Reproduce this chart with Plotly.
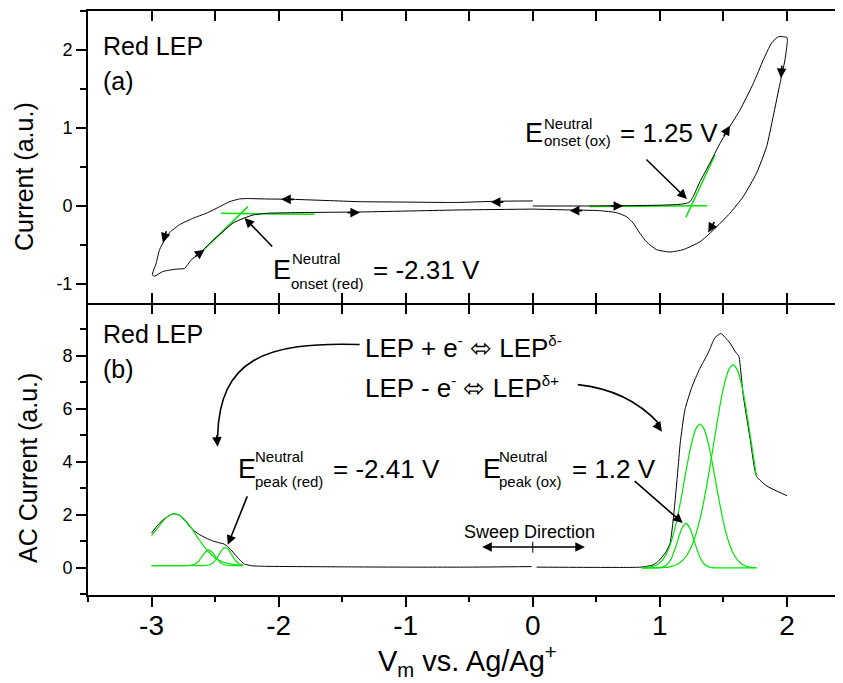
import plotly.graph_objects as go

# ---------------- data : panel (a) cyclic voltammetry ----------------
cv_anodic_v = [0.0, 0.4, 0.8, 1.0, 1.15, 1.21, 1.236, 1.262, 1.315, 1.394, 1.472, 1.551, 1.63, 1.735,
               1.813, 1.879, 1.932, 1.975, 2.0, 2.003, 1.984, 1.945, 1.892, 1.84, 1.76, 1.656, 1.551,
               1.42, 1.315, 1.183, 1.079, 0.974, 0.895, 0.843, 0.79, 0.738, 0.659, 0.528, 0.265, 0.0]
cv_anodic_i = [0.0, 0.0, 0.005, 0.01, 0.02, 0.035, 0.055, 0.12, 0.31, 0.55, 0.80, 1.02, 1.23, 1.57,
               1.87, 2.09, 2.17, 2.17, 2.16, 2.11, 1.87, 1.57, 1.15, 0.76, 0.42, 0.12, -0.094,
               -0.31, -0.46, -0.56, -0.59, -0.56, -0.46, -0.35, -0.22, -0.137, -0.086, -0.06, -0.05, -0.04]
cv_cathodic_v = [0.0, -0.3, -0.6, -1.0, -1.36, -1.62, -1.887, -2.1, -2.25, -2.307, -2.386, -2.465, -2.57,
                 -2.675, -2.78, -2.858, -2.898, -2.937, -2.963, -2.994, -2.976, -2.911, -2.806, -2.74,
                 -2.687, -2.622, -2.543, -2.439, -2.36, -2.28, -2.2, -2.097, -1.887, -1.62, -1.36,
                 -0.575, 0.0]
cv_cathodic_i = [0.065, 0.06, 0.045, 0.05, 0.055, 0.07, 0.085, 0.09, 0.095, 0.09, 0.055, -0.01, -0.094,
                 -0.158, -0.24, -0.34, -0.44, -0.56, -0.73, -0.885, -0.90, -0.84, -0.81, -0.80,
                 -0.69, -0.61, -0.48, -0.33, -0.22, -0.16, -0.115, -0.094, -0.086, -0.081, -0.077,
                 -0.051, -0.04]
# onset tangent lines
tan_red_base_v, tan_red_base_i = [-2.451, -1.717], [-0.094, -0.106]
tan_red_slope_v, tan_red_slope_i = [-2.583, -2.242], [-0.551, -0.008]
tan_ox_base_v, tan_ox_base_i = [0.449, 1.372], [-0.008, 0.004]
tan_ox_slope_v, tan_ox_slope_i = [1.205, 1.433], [-0.145, 0.654]

# ---------------- data : panel (b) AC voltammetry ----------------
ac_neg_v = [-3.0, -2.95, -2.9, -2.85, -2.82, -2.78, -2.74, -2.70, -2.66, -2.62, -2.57, -2.52, -2.47,
            -2.43, -2.40, -2.36, -2.33, -2.30, -2.27, -2.21, -2.1, -1.5, -1.0, -0.5, -0.01]
ac_neg_i = [1.31, 1.62, 1.85, 2.0, 2.04, 1.98, 1.8, 1.56, 1.38, 1.25, 1.12, 1.02, 0.95,
            0.9, 0.8, 0.6, 0.43, 0.28, 0.15, 0.08, 0.06, 0.04, 0.03, 0.03, 0.05]
ac_pos_v = [0.03, 0.5, 0.85, 0.945, 0.98, 1.01, 1.05, 1.08, 1.10, 1.118, 1.14, 1.16, 1.197, 1.25,
            1.31, 1.38, 1.433, 1.48, 1.55, 1.60, 1.62, 1.656, 1.709, 1.761, 1.84, 2.0]
ac_pos_i = [0.03, 0.02, 0.03, 0.11, 0.22, 0.37, 0.62, 0.93, 1.6, 2.44, 3.6, 4.7, 5.96, 6.79,
            7.47, 8.1, 8.67, 8.83, 8.48, 8.1, 8.0, 6.5, 4.9, 3.45, 3.09, 2.72]

fit_red_v = [-3.0, -2.95, -2.9, -2.85, -2.82, -2.78, -2.74, -2.70, -2.66, -2.63, -2.60, -2.57, -2.55,
             -2.52, -2.49, -2.46, -2.43, -2.40, -2.37, -2.34, -2.31, -2.28]
fit_red_1 = [1.22, 1.52, 1.82, 2.01, 2.04, 1.98, 1.82, 1.59, 1.31, 1.09, 0.89, 0.71, 0.60,
             0.46, 0.35, 0.27, 0.21, 0.17, 0.14, 0.12, 0.11, 0.10]
fit_red_2 = [0.09, 0.09, 0.09, 0.09, 0.09, 0.09, 0.09, 0.10, 0.14, 0.25, 0.45, 0.63, 0.68,
             0.58, 0.38, 0.21, 0.12, 0.10, 0.09, 0.09, 0.09, 0.09]
fit_red_3 = [0.09, 0.09, 0.09, 0.09, 0.09, 0.09, 0.09, 0.09, 0.09, 0.09, 0.09, 0.097, 0.11,
             0.18, 0.345, 0.58, 0.76, 0.72, 0.50, 0.28, 0.15, 0.10]

fit_ox_v = [0.86, 0.92, 0.97, 1.01, 1.05, 1.09, 1.13, 1.17, 1.205, 1.24, 1.28, 1.315, 1.35, 1.39,
            1.43, 1.47, 1.51, 1.545, 1.577, 1.61, 1.65, 1.69, 1.725, 1.76]
fit_ox_1 = [0.0, 0.0, 0.0, 0.02, 0.10, 0.35, 0.87, 1.46, 1.69, 1.46, 0.87, 0.40, 0.14, 0.03,
            0.0, 0.0, 0.0, 0.0, 0.0, 0.0, 0.0, 0.0, 0.0, 0.0]
fit_ox_2 = [0.01, 0.03, 0.10, 0.24, 0.52, 1.00, 1.74, 2.69, 3.63, 4.50, 5.21, 5.43, 5.21, 4.50,
            3.50, 2.44, 1.52, 0.93, 0.55, 0.30, 0.13, 0.05, 0.02, 0.01]
fit_ox_3 = [0.0, 0.0, 0.0, 0.01, 0.02, 0.06, 0.12, 0.24, 0.43, 0.72, 1.22, 1.83, 2.62, 3.69,
            4.89, 6.04, 6.98, 7.50, 7.66, 7.46, 6.75, 5.65, 4.55, 3.45]

# tick labels
x_tickvals = [-3, -2, -1, 0, 1, 2]
x_ticktext = ["-3", "-2", "-1", "0", "1", "2"]
ya_tickvals = [-1, 0, 1, 2]
ya_ticktext = ["-1", "0", "1", "2"]
yb_tickvals = [0, 2, 4, 6, 8]
yb_ticktext = ["0", "2", "4", "6", "8"]

FONT = "Arial, Liberation Sans, sans-serif"
GREEN = "#00E600"

fig = go.Figure()


def line(x, y, color, width, xa, ya, shape="spline"):
    fig.add_trace(go.Scatter(x=x, y=y, mode="lines", xaxis=xa, yaxis=ya, showlegend=False,
                             hoverinfo="skip",
                             line=dict(color=color, width=width, shape=shape, smoothing=0.5)))


# panel (a)
line(tan_red_base_v, tan_red_base_i, GREEN, 1.5, "x", "y", "linear")
line(tan_red_slope_v, tan_red_slope_i, GREEN, 1.5, "x", "y", "linear")
line(tan_ox_base_v, tan_ox_base_i, GREEN, 1.5, "x", "y", "linear")
line(tan_ox_slope_v, tan_ox_slope_i, GREEN, 1.5, "x", "y", "linear")
line(cv_anodic_v, cv_anodic_i, "black", 1, "x", "y")
line(cv_cathodic_v, cv_cathodic_i, "black", 1, "x", "y")

# panel (b)
line(ac_neg_v, ac_neg_i, "black", 1, "x2", "y2")
line(ac_pos_v, ac_pos_i, "black", 1, "x2", "y2")
for ys in (fit_red_1, fit_red_2, fit_red_3):
    line(fit_red_v, ys, GREEN, 1.2, "x2", "y2")
for ys in (fit_ox_1, fit_ox_2, fit_ox_3):
    line(fit_ox_v, ys, GREEN, 1.2, "x2", "y2")
# dummy trace so that the extra tick axis exists
fig.add_trace(go.Scatter(x=[None], y=[None], xaxis="x3", yaxis="y2", showlegend=False))

ann = []


def txt(text, x, y, size, panel=1, xanchor="left", yanchor="middle"):
    xr, yr = ("x", "y") if panel == 1 else ("x2", "y2")
    ann.append(dict(text=text, x=x, y=y, xref=xr, yref=yr, showarrow=False, xanchor=xanchor,
                    yanchor=yanchor, font=dict(size=size, color="black", family=FONT)))


def pointer(hx, hy, tx, ty, panel=1, both=False):
    xr, yr = ("x", "y") if panel == 1 else ("x2", "y2")
    ann.append(dict(text="", x=hx, y=hy, ax=tx, ay=ty, xref=xr, yref=yr, axref=xr, ayref=yr,
                    showarrow=True, arrowhead=2, arrowsize=1.2, arrowwidth=1.6, arrowcolor="black",
                    arrowside="end+start" if both else "end", standoff=0, startstandoff=0))


def head(hx, hy, dx, dy, panel=1):
    xr, yr = ("x", "y") if panel == 1 else ("x2", "y2")
    ann.append(dict(text="", x=hx, y=hy, ax=dx, ay=dy, xref=xr, yref=yr, axref="pixel",
                    ayref="pixel", showarrow=True, arrowhead=2, arrowsize=1.2, arrowwidth=1.6,
                    arrowcolor="black", standoff=0))


def small(s):
    return '<span style="font-size:15px">' + s + '</span>'


# panel (a) texts
txt("Red LEP", -3.394, 2.05, 25)
txt("(a)", -3.394, 1.60, 25)
txt("E", -0.079, 0.936, 27)
txt("Neutral", 0.071, 1.064, 15)
txt("onset (ox)", 0.071, 0.84, 15)
txt("= 1.25 V", 0.669, 0.936, 26)
txt("E", -2.063, -0.82, 27)
txt("Neutral", -1.913, -0.667, 15)
txt("onset (red)", -1.921, -0.99, 15)
txt("= -2.31 V", -1.276, -0.82, 26)
pointer(1.213, 0.09, 0.882, 0.615)
pointer(-2.268, -0.154, -2.039, -0.538)
# sweep direction arrowheads on the CV loop
head(0.711, 0.0, -14, 0)
head(1.551, 1.03, -7, 12)
head(1.953, 1.64, 1, -14)
head(1.38, -0.34, 7, -12)
head(0.291, -0.06, 14, 0)
head(-0.33, 0.05, 14, 0)
head(-1.98, 0.085, 14, 0)
head(-2.911, -0.47, 4, -13)
head(-2.583, -0.56, -11, 8)
head(-1.36, -0.085, -14, 0)

# panel (b) texts
txt("Red LEP", -3.394, 8.83, 25, 2)
txt("(b)", -3.394, 7.51, 25, 2)
txt("LEP + e<sup>" + small("-") + "</sup> \u2B04 LEP<sup>" + small("\u03b4-") + "</sup>",
    -1.339, 8.30, 26, 2)
txt("LEP - e<sup>" + small("-") + "</sup> \u2B04 LEP<sup>" + small("\u03b4+") + "</sup>",
    -1.339, 6.79, 26, 2)
txt("E", -2.334, 3.72, 27, 2)
txt("Neutral", -2.205, 4.19, 15, 2)
txt("peak (red)", -2.205, 3.24, 15, 2)
txt("= -2.41 V", -1.59, 3.72, 26, 2)
txt("E", -0.409, 3.72, 27, 2)
txt("Neutral", -0.283, 4.19, 15, 2)
txt("peak (ox)", -0.283, 3.24, 15, 2)
txt("= 1.2 V", 0.291, 3.72, 26, 2)
txt("Sweep Direction", -0.024, 1.36, 18, 2, xanchor="center")
pointer(-2.40, 0.87, -2.242, 2.75, 2)
pointer(1.18, 1.69, 0.79, 3.32, 2)
pointer(0.41, 0.79, -0.41, 0.79, 2, both=True)
head(-2.480, 4.566, -1, -13, 2)
head(1.016, 5.132, -7, -10, 2)

# axis titles
ann.append(dict(text="Current (a.u.)", x=-0.0848, y=0.7175, xref="paper", yref="paper",
                textangle=-90, showarrow=False, xanchor="center", yanchor="middle",
                font=dict(size=25, color="black", family=FONT)))
ann.append(dict(text="AC Current (a.u.)", x=-0.0795, y=0.2175, xref="paper", yref="paper",
                textangle=-90, showarrow=False, xanchor="center", yanchor="middle",
                font=dict(size=25, color="black", family=FONT)))
ann.append(dict(text="V<sub>m</sub> vs. Ag/Ag<sup>+</sup>", x=0.502, y=-0.113, xref="paper",
                yref="paper", showarrow=False, xanchor="center", yanchor="middle",
                font=dict(size=29, color="black", family=FONT)))

shapes = [
    dict(type="path", xref="x2", yref="y2",
         path="M -1.362,8.415 C -2.110,8.528 -2.465,7.849 -2.480,4.95",
         line=dict(color="black", width=1.6)),
    dict(type="path", xref="x2", yref="y2",
         path="M 0.354,6.906 C 0.724,6.717 0.906,5.887 0.99,5.45",
         line=dict(color="black", width=1.6)),
    dict(type="line", xref="x2", yref="y2", x0=0, x1=0, y0=0.57, y1=0.99,
         line=dict(color="black", width=1)),
]

XR = [-3.5, 2.441]
common_x = dict(range=XR, showgrid=False, zeroline=False, showline=True, linewidth=2,
                linecolor="black", tickcolor="black", tickwidth=2, automargin=False)
# page body has an 8px margin: the figure is 835x675 so that it fills the 843x683 window
fig.update_layout(
    width=835, height=675, margin=dict(l=80, r=0, t=3, b=88, autoexpand=False),
    paper_bgcolor="white", plot_bgcolor="white",
    font=dict(family=FONT, color="black"),
    xaxis=dict(**common_x, anchor="y", matches="x2", ticks="inside", ticklen=10, dtick=0.5,
               tick0=0, mirror="ticks", showticklabels=False),
    xaxis2=dict(**common_x, anchor="y2", ticks="outside", ticklen=10, tickmode="array",
                tickvals=x_tickvals, ticktext=x_ticktext,
                tickfont=dict(size=28), ticklabelstandoff=-6,
                minor=dict(dtick=0.5, tick0=0, ticks="outside", ticklen=5, tickwidth=2,
                           tickcolor="black", showgrid=False)),
    xaxis3=dict(range=XR, overlaying="x2", anchor="y2", side="top", showgrid=False,
                zeroline=False, showline=False, ticks="inside", ticklen=11, tickwidth=2,
                tickcolor="black", dtick=0.5, tick0=0, showticklabels=False, automargin=False),
    yaxis=dict(domain=[0.5, 1], range=[-1.244, 2.5], showgrid=False, zeroline=False,
               showline=True, linewidth=2, linecolor="black", ticks="outside", ticklen=10,
               tickwidth=2, tickcolor="black", tickmode="array", tickvals=ya_tickvals,
               ticktext=ya_ticktext, tickfont=dict(size=18), automargin=False,
               minor=dict(dtick=0.5, tick0=0, ticks="outside", ticklen=6, tickwidth=2,
                          tickcolor="black", showgrid=False)),
    yaxis2=dict(domain=[0, 0.5], range=[-1.02, 9.98], showgrid=False, zeroline=False,
                showline=True, linewidth=2, linecolor="black", ticks="outside", ticklen=10,
                tickwidth=2, tickcolor="black", tickmode="array", tickvals=yb_tickvals,
                ticktext=yb_ticktext, tickfont=dict(size=18), automargin=False,
                minor=dict(dtick=1, tick0=0, ticks="outside", ticklen=6, tickwidth=2,
                           tickcolor="black", showgrid=False)),
    annotations=ann,
    shapes=shapes,
)

fig.write_html("out.html")
